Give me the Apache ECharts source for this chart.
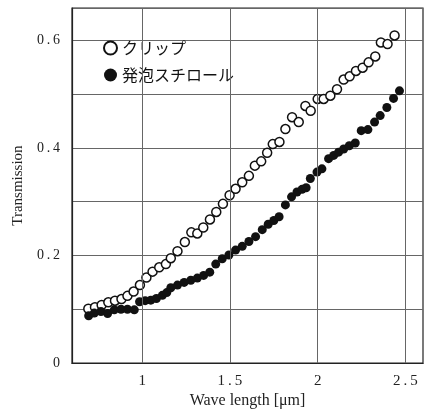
<!DOCTYPE html>
<html>
<head>
<meta charset="utf-8">
<script src="https://cdn.jsdelivr.net/npm/echarts@6/dist/echarts.min.js"></script>
<style>html,body{margin:0;padding:0;background:#fff}#c{width:427px;height:414px}</style>
</head>
<body>
<div id="c"></div>
<script>
const clipX = [0.693,0.731,0.769,0.807,0.845,0.882,0.916,0.951,0.987,1.024,1.059,1.097,1.135,1.163,1.201,1.243,1.280,1.314,1.348,1.386,1.422,1.460,1.498,1.532,1.570,1.608,1.642,1.678,1.712,1.744,1.782,1.816,1.854,1.892,1.930,1.960,2.000,2.034,2.072,2.110,2.148,2.182,2.218,2.256,2.290,2.328,2.360,2.398,2.438];
const clipY = [0.101,0.104,0.108,0.113,0.116,0.119,0.125,0.133,0.145,0.159,0.170,0.178,0.184,0.195,0.208,0.225,0.243,0.241,0.252,0.267,0.281,0.296,0.312,0.324,0.336,0.348,0.367,0.375,0.391,0.407,0.411,0.435,0.457,0.448,0.478,0.469,0.491,0.491,0.497,0.509,0.527,0.533,0.543,0.549,0.559,0.570,0.596,0.593,0.609];
const foamX = [0.695,0.727,0.765,0.803,0.841,0.879,0.916,0.955,0.985,1.017,1.049,1.081,1.115,1.140,1.163,1.201,1.239,1.277,1.314,1.350,1.385,1.419,1.456,1.494,1.532,1.570,1.608,1.646,1.684,1.718,1.750,1.780,1.816,1.851,1.882,1.911,1.934,1.958,1.996,2.024,2.062,2.091,2.119,2.148,2.180,2.214,2.248,2.286,2.324,2.356,2.394,2.432,2.466];
const foamY = [0.088,0.093,0.096,0.092,0.099,0.100,0.100,0.099,0.114,0.116,0.117,0.120,0.126,0.131,0.140,0.145,0.150,0.154,0.158,0.163,0.169,0.184,0.194,0.201,0.210,0.217,0.226,0.235,0.248,0.258,0.265,0.272,0.294,0.309,0.318,0.323,0.326,0.343,0.355,0.361,0.380,0.386,0.392,0.398,0.404,0.409,0.432,0.434,0.448,0.460,0.475,0.492,0.506];
const xTickLabels = [1, 1.5, 2, 2.5];
const yTickLabels = [0, 0.2, 0.4, 0.6];
const seriesNames = ['クリップ', '発泡スチロール'];

const chart = echarts.init(document.getElementById('c'));
const serif = '"Liberation Serif", "DejaVu Serif", serif';
const near = (v, arr) => arr.some(a => Math.abs(a - v) < 1e-6);
chart.setOption({
  animation: false,
  backgroundColor: '#fff',
  grid: { left: 72, right: 4, top: 8, bottom: 48, show: true, borderColor: '#222', borderWidth: 1.2 },
  legend: {
    orient: 'vertical', left: 98, top: 35, itemGap: 11,
    itemWidth: 13, itemHeight: 13,
    textStyle: { fontFamily: '"Noto Sans CJK JP"', fontSize: 16, color: '#111' },
    data: seriesNames
  },
  xAxis: {
    type: 'value', min: 0.6, max: 2.6, interval: 0.1,
    name: 'Wave length [\u03bcm]', nameLocation: 'middle', nameGap: 28,
    nameTextStyle: { fontFamily: serif, fontSize: 16, color: '#222' },
    axisLine: { show: true, lineStyle: { color: '#222', width: 1.2 } },
    axisTick: { show: false },
    splitLine: { show: false },
    axisLabel: {
      fontFamily: serif, fontSize: 15, color: '#222', margin: 10,
      formatter: v => near(v, xTickLabels) ? String(Math.round(v * 10) / 10).replace('.', '\u2009.\u2009') : ''
    }
  },
  yAxis: {
    type: 'value', min: 0, max: 0.66, interval: 0.1,
    name: 'Transmission', nameLocation: 'middle', nameGap: 42,
    nameTextStyle: { fontFamily: serif, fontSize: 15, color: '#222' },
    axisLine: { show: true, lineStyle: { color: '#222', width: 1.2 } },
    axisTick: { show: false },
    splitLine: { show: true, lineStyle: { color: '#666', width: 1 } },
    axisLabel: {
      fontFamily: serif, fontSize: 14, color: '#222', margin: 12,
      formatter: v => near(v, yTickLabels) ? (v === 0 ? '0' : v.toFixed(1).replace('.', '\u2009.\u2009')) : ''
    }
  },
  series: [
    {
      name: seriesNames[0], type: 'scatter', symbol: 'circle', symbolSize: 9,
      itemStyle: { color: '#fff', borderColor: '#111', borderWidth: 1.5, opacity: 1 },
      data: clipX.map((x, i) => [x, clipY[i]]),
      z: 3,
      markLine: {
        silent: true, symbol: 'none', label: { show: false },
        lineStyle: { color: '#666', width: 1, type: 'solid' },
        data: xTickLabels.map(v => ({ xAxis: v }))
      }
    },
    {
      name: seriesNames[1], type: 'scatter', symbol: 'circle', symbolSize: 9,
      itemStyle: { color: '#111', opacity: 1 },
      data: foamX.map((x, i) => [x, foamY[i]]),
      z: 4
    }
  ]
});
</script>
</body>
</html>
